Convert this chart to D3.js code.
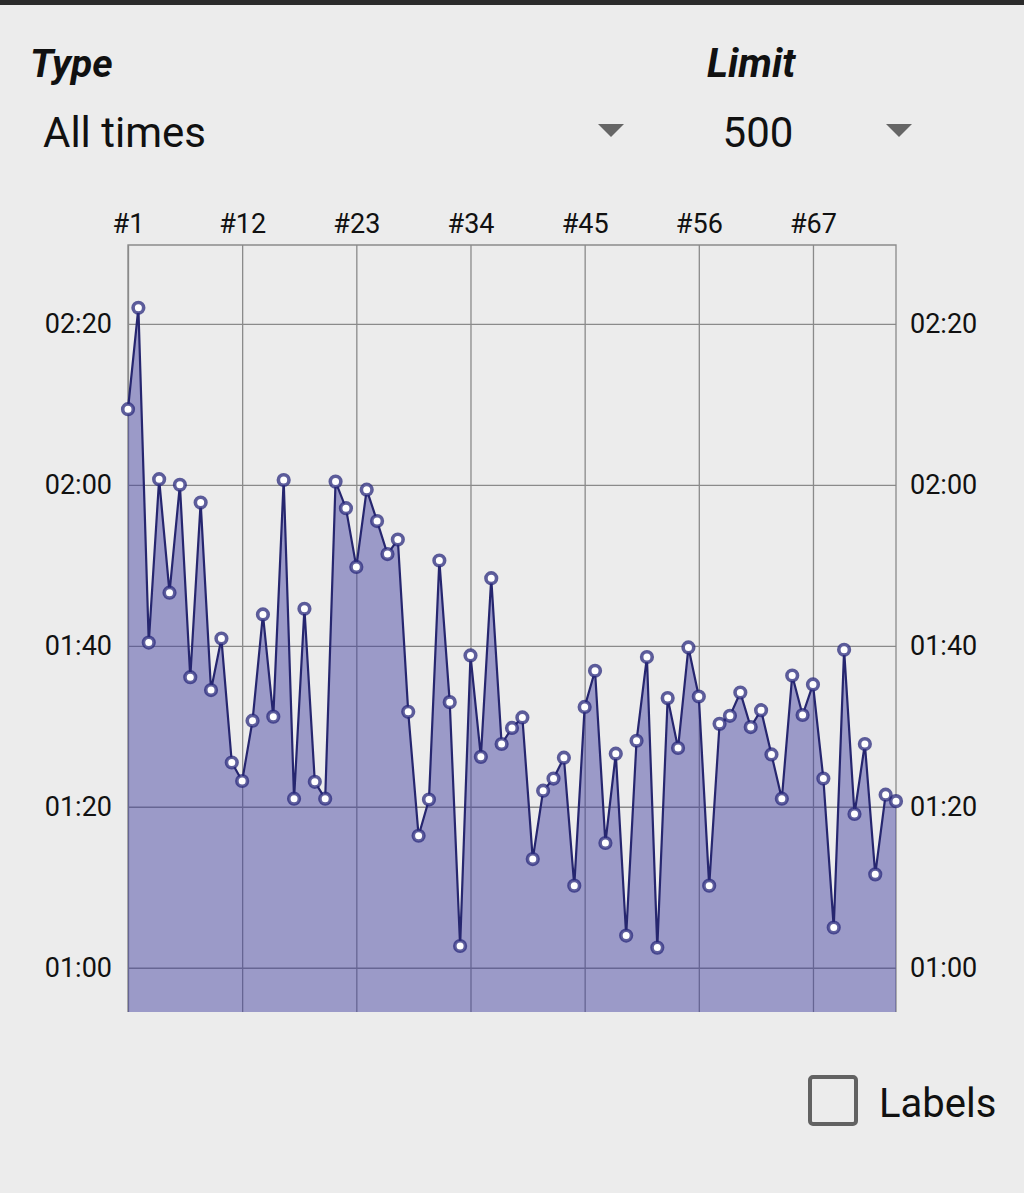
<!DOCTYPE html>
<html>
<head>
<meta charset="utf-8">
<script src="https://cdn.jsdelivr.net/npm/d3@7"></script>
<style>
  html, body { margin: 0; padding: 0; background: #ececec; }
  body { width: 1024px; height: 1193px; overflow: hidden; font-family: Roboto, "Noto Sans", sans-serif; }
  .tick text { font-family: Roboto, sans-serif; fill: #111; }
</style>
</head>
<body>
<svg id="chart" width="1024" height="1193"></svg>
<script>
// lap times in seconds, attempt #1 .. #75
const times = [
  129.4, 142.0, 100.4, 120.7, 106.6, 120.0, 96.1, 117.8, 94.5, 100.9,
  85.5, 83.2, 90.7, 103.9, 91.2, 120.6, 81.0, 104.6, 83.1, 81.0,
  120.4, 117.1, 109.8, 119.4, 115.5, 111.4, 113.2, 91.8, 76.4, 80.9,
  110.6, 93.0, 62.7, 98.8, 86.2, 108.4, 87.8, 89.8, 91.1, 73.5,
  82.0, 83.5, 86.1, 70.2, 92.4, 96.9, 75.5, 86.6, 64.0, 88.2,
  98.6, 62.5, 93.5, 87.3, 99.8, 93.7, 70.2, 90.3, 91.3, 94.2,
  89.9, 92.0, 86.5, 81.0, 96.3, 91.4, 95.2, 83.5, 65.0, 99.5,
  79.1, 87.8, 71.6, 81.5, 80.7
];
const xTicks = [1, 12, 23, 34, 45, 56, 67];
const yTicks = [60, 80, 100, 120, 140];

const data = times.map((t, i) => ({ n: i + 1, t: t }));

let margin = {top: 245, left: 128},
    width = 768,
    height = 767;

let svg = d3.select("#chart");

// top status bar edge
svg.append("rect").attr("x", 0).attr("y", 0).attr("width", 1024).attr("height", 5).attr("fill", "#2b2b2b");

// header: selectors
svg.append("text").attr("x", 30).attr("y", 77)
    .style("font", "italic bold 39px Roboto").attr("fill", "#111").text("Type");
svg.append("text").attr("x", 707).attr("y", 77)
    .style("font", "italic bold 40px Roboto").attr("fill", "#111").text("Limit");
svg.append("text").attr("x", 43).attr("y", 147)
    .style("font", "42px Roboto").attr("fill", "#111").text("All times");
svg.append("text").attr("x", 758).attr("y", 147).attr("text-anchor", "middle")
    .style("font", "42px Roboto").attr("fill", "#111").text("500");
[611, 899].forEach(function(cx) {
    svg.append("path")
        .attr("d", "M" + (cx - 13) + ",124 L" + (cx + 13) + ",124 L" + cx + ",137 Z")
        .attr("fill", "#666");
});

let g = svg.append("g").attr("transform", "translate(" + margin.left + "," + margin.top + ")");

let x = d3.scaleLinear().domain([1, 75]).range([0, width]);
let y = d3.scaleLinear().domain([54.5, 149.8]).range([height, 0]);

let fmt = function(s) {
    let m = Math.floor(s / 60), sec = Math.round(s % 60);
    return String(m).padStart(2, "0") + ":" + String(sec).padStart(2, "0");
};

// grid
g.append("g")
    .call(d3.axisTop(x).tickValues(xTicks).tickSize(-height).tickFormat(""))
    .call(a => a.select(".domain").remove())
    .call(a => a.selectAll("line").attr("stroke", "#8a8a8a").attr("stroke-width", 1.3));
g.append("g")
    .call(d3.axisLeft(y).tickValues(yTicks).tickSize(-width).tickFormat(""))
    .call(a => a.select(".domain").remove())
    .call(a => a.selectAll("line").attr("stroke", "#8a8a8a").attr("stroke-width", 1.3));

// frame
g.append("path")
    .attr("d", "M0," + height + " V0 H" + width + " V" + height)
    .attr("fill", "none").attr("stroke", "#8a8a8a").attr("stroke-width", 1.3);

// axis labels
g.append("g")
    .call(d3.axisTop(x).tickValues(xTicks).tickSize(0).tickPadding(12).tickFormat(d => "#" + d))
    .call(a => a.select(".domain").remove())
    .call(a => a.selectAll("text").style("font-size", "27px"));
g.append("g")
    .call(d3.axisLeft(y).tickValues(yTicks).tickSize(0).tickPadding(16).tickFormat(fmt))
    .call(a => a.select(".domain").remove())
    .call(a => a.selectAll("text").style("font-size", "27px"));
g.append("g")
    .attr("transform", "translate(" + width + ",0)")
    .call(d3.axisRight(y).tickValues(yTicks).tickSize(0).tickPadding(14).tickFormat(fmt))
    .call(a => a.select(".domain").remove())
    .call(a => a.selectAll("text").style("font-size", "27px"));

// area + line
let area = d3.area().x(d => x(d.n)).y0(height).y1(d => y(d.t));
let line = d3.line().x(d => x(d.n)).y(d => y(d.t));

g.append("path").datum(data)
    .attr("d", area)
    .attr("fill", "rgb(58,56,158)").attr("fill-opacity", 0.45);
g.append("path").datum(data)
    .attr("d", line)
    .attr("fill", "none").attr("stroke", "#26266f").attr("stroke-width", 2.2);

g.selectAll("circle.pt").data(data).enter().append("circle")
    .attr("class", "pt")
    .attr("cx", d => x(d.n))
    .attr("cy", d => y(d.t))
    .attr("r", 5.3)
    .attr("fill", "#fff")
    .attr("stroke", "#2a2a7c").attr("stroke-opacity", 0.75)
    .attr("stroke-width", 3.6);

// labels checkbox
svg.append("rect").attr("x", 810).attr("y", 1077).attr("width", 46).attr("height", 47)
    .attr("rx", 3).attr("fill", "none").attr("stroke", "#626262").attr("stroke-width", 4);
svg.append("text").attr("x", 879).attr("y", 1117)
    .style("font", "40px Roboto").attr("fill", "#111").text("Labels");
</script>
</body>
</html>
